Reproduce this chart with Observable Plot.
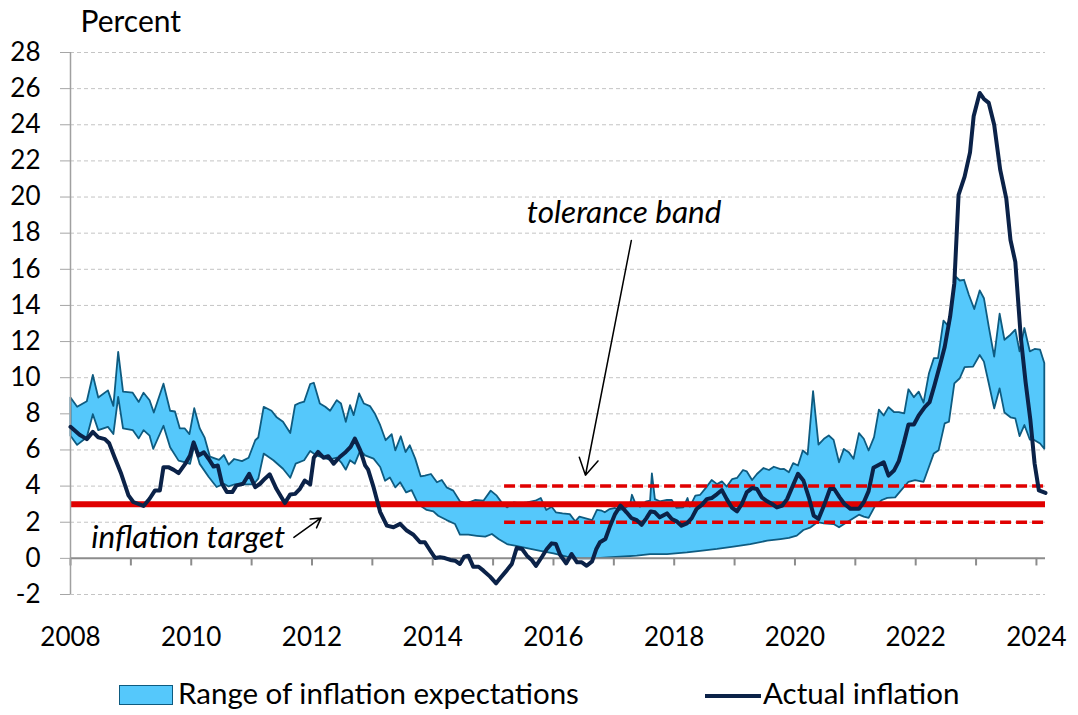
<!DOCTYPE html>
<html><head><meta charset="utf-8">
<script src="https://cdn.jsdelivr.net/npm/d3@7"></script>
<script src="https://cdn.jsdelivr.net/npm/@observablehq/plot@0.6"></script>
<style>
body{margin:0;background:#fff;font-family:Lato,sans-serif;}
#wrap{position:relative;width:1078px;height:715px;overflow:hidden}
.leg{position:absolute;font-size:29.5px;color:#000;line-height:32px;white-space:nowrap}
</style></head><body><div id="wrap"></div>
<script>
// ---- data (decimal year, percent) ----
const expUpper = [
[2008.00,8.9],[2008.11,8.39],[2008.27,8.7],[2008.37,10.15],[2008.46,8.9],[2008.62,9.3],[2008.71,8.44],[2008.79,11.43],[2008.87,9.23],[2009.03,9.17],[2009.13,8.66],[2009.21,9.17],[2009.31,8.75],[2009.38,8.07],[2009.54,9.67],[2009.65,8.17],[2009.73,8.13],[2009.81,7.2],[2009.89,7.2],[2009.97,6.88],[2010.05,8.31],[2010.14,7.2],[2010.22,6.7],[2010.31,5.63],[2010.46,5.45],[2010.54,5.72],[2010.62,5.19],[2010.71,5.5],[2010.84,5.38],[2010.95,5.57],[2011.06,6.54],[2011.11,6.69],[2011.20,8.39],[2011.33,8.17],[2011.41,7.83],[2011.52,7.56],[2011.64,6.94],[2011.72,8.48],[2011.80,8.61],[2011.87,8.67],[2011.97,9.65],[2012.03,9.72],[2012.13,8.57],[2012.22,8.39],[2012.30,8.17],[2012.41,8.76],[2012.48,8.57],[2012.56,7.56],[2012.63,8.48],[2012.69,7.93],[2012.78,9.13],[2012.86,8.57],[2012.96,8.43],[2013.04,8.02],[2013.13,7.37],[2013.22,6.54],[2013.32,6.87],[2013.38,5.98],[2013.47,6.76],[2013.55,5.89],[2013.62,6.26],[2013.71,5.52],[2013.80,4.54],[2013.87,4.58],[2013.97,4.67],[2014.07,4.21],[2014.15,4.34],[2014.23,3.93],[2014.34,3.75],[2014.45,3.16],[2014.56,3.04],[2014.70,3.23],[2014.84,3.19],[2014.96,3.75],[2015.06,3.47],[2015.14,3.1],[2015.23,2.82],[2015.34,3.1],[2015.45,3.04],[2015.56,3.1],[2015.70,3.19],[2015.79,3.34],[2015.88,2.68],[2015.97,2.86],[2016.04,2.55],[2016.15,2.49],[2016.27,2.45],[2016.36,2.05],[2016.43,2.31],[2016.52,2.23],[2016.64,2.12],[2016.72,2.68],[2016.80,2.64],[2016.85,2.55],[2016.93,2.73],[2017.02,2.79],[2017.10,2.68],[2017.18,2.77],[2017.27,3.0],[2017.30,3.52],[2017.35,3.1],[2017.43,2.86],[2017.54,3.16],[2017.60,3.19],[2017.63,4.7],[2017.68,3.28],[2017.76,3.16],[2017.88,3.23],[2017.96,3.23],[2018.04,2.79],[2018.15,2.82],[2018.22,3.34],[2018.26,2.86],[2018.35,3.47],[2018.43,3.52],[2018.54,3.97],[2018.62,4.34],[2018.71,4.11],[2018.79,4.26],[2018.87,3.97],[2018.96,4.39],[2019.04,4.45],[2019.14,4.89],[2019.20,4.82],[2019.29,4.34],[2019.37,4.67],[2019.48,5.0],[2019.57,4.89],[2019.65,5.07],[2019.76,4.94],[2019.82,4.95],[2019.90,4.77],[2019.97,5.27],[2020.05,5.14],[2020.13,5.97],[2020.21,5.75],[2020.30,9.26],[2020.39,6.3],[2020.48,6.62],[2020.56,6.8],[2020.64,6.56],[2020.73,5.32],[2020.81,6.06],[2020.89,5.88],[2020.97,5.51],[2021.06,6.93],[2021.14,6.62],[2021.22,5.97],[2021.31,6.71],[2021.39,8.23],[2021.47,7.91],[2021.55,8.37],[2021.64,8.1],[2021.72,8.1],[2021.81,8.03],[2021.88,9.36],[2021.97,8.92],[2022.05,9.23],[2022.13,8.62],[2022.22,10.25],[2022.30,11.08],[2022.37,11.08],[2022.46,13.16],[2022.55,12.83],[2022.66,15.6],[2022.73,15.38],[2022.80,15.42],[2022.88,14.59],[2022.97,13.8],[2023.06,14.83],[2023.13,14.4],[2023.21,12.83],[2023.30,11.17],[2023.39,13.54],[2023.47,12.1],[2023.57,12.38],[2023.65,12.66],[2023.72,11.46],[2023.80,12.75],[2023.89,11.46],[2023.97,11.59],[2024.06,11.55],[2024.13,10.81]
];
const expLower = [
[2008.00,6.79],[2008.11,6.28],[2008.27,6.7],[2008.37,7.98],[2008.46,7.1],[2008.62,7.28],[2008.71,6.88],[2008.79,8.94],[2008.87,7.2],[2009.03,7.1],[2009.13,6.64],[2009.21,7.1],[2009.31,6.79],[2009.37,6.06],[2009.54,7.34],[2009.65,6.15],[2009.79,5.41],[2009.90,5.32],[2009.98,5.23],[2010.05,6.24],[2010.14,5.23],[2010.29,4.5],[2010.42,3.95],[2010.54,4.13],[2010.62,3.98],[2010.71,4.09],[2010.84,4.09],[2011.03,4.09],[2011.11,4.41],[2011.20,5.8],[2011.36,5.43],[2011.52,4.96],[2011.64,4.46],[2011.73,5.24],[2011.87,5.43],[2011.97,5.94],[2012.07,5.7],[2012.19,5.57],[2012.29,5.46],[2012.41,5.57],[2012.49,5.28],[2012.56,4.91],[2012.63,5.43],[2012.71,5.24],[2012.80,5.98],[2012.88,5.7],[2013.02,5.52],[2013.13,5.06],[2013.21,4.3],[2013.29,4.48],[2013.38,3.93],[2013.46,4.21],[2013.56,3.65],[2013.65,3.78],[2013.76,3.0],[2013.90,2.68],[2014.01,2.6],[2014.09,2.36],[2014.23,2.12],[2014.37,1.9],[2014.45,1.31],[2014.59,1.31],[2014.73,1.25],[2014.87,1.2],[2014.98,1.35],[2015.09,1.07],[2015.23,0.79],[2015.36,0.7],[2015.56,0.57],[2015.78,0.42],[2016.00,0.28],[2016.22,0.09],[2016.44,0.0],[2016.66,0.0],[2016.90,0.05],[2017.10,0.09],[2017.38,0.15],[2017.60,0.24],[2017.88,0.24],[2018.21,0.33],[2018.43,0.42],[2018.71,0.52],[2018.98,0.65],[2019.26,0.79],[2019.54,0.98],[2019.76,1.07],[2019.90,1.13],[2020.03,1.26],[2020.14,1.57],[2020.26,1.72],[2020.37,2.0],[2020.48,1.94],[2020.64,1.9],[2020.73,1.72],[2020.86,2.0],[2021.06,2.42],[2021.14,2.31],[2021.22,2.24],[2021.33,2.92],[2021.44,3.23],[2021.53,3.35],[2021.66,3.38],[2021.75,3.74],[2021.88,4.24],[2021.99,4.33],[2022.13,4.24],[2022.22,5.07],[2022.30,5.81],[2022.38,5.99],[2022.48,7.47],[2022.55,7.56],[2022.64,9.69],[2022.73,9.97],[2022.81,10.58],[2022.95,10.61],[2023.06,11.26],[2023.13,10.89],[2023.21,9.69],[2023.30,8.3],[2023.39,9.41],[2023.47,8.07],[2023.57,7.81],[2023.65,7.75],[2023.72,6.77],[2023.80,7.38],[2023.89,6.58],[2023.97,6.54],[2024.06,6.36],[2024.13,6.07]
];
const actualInflation = [
[2008.00,7.28],[2008.15,6.84],[2008.27,6.6],[2008.37,7.0],[2008.46,6.7],[2008.57,6.6],[2008.64,6.37],[2008.73,5.6],[2008.84,4.68],[2008.96,3.49],[2009.04,3.12],[2009.21,2.9],[2009.31,3.3],[2009.40,3.76],[2009.48,3.76],[2009.54,5.05],[2009.62,5.05],[2009.71,4.9],[2009.79,4.72],[2009.90,5.23],[2009.98,5.69],[2010.04,6.42],[2010.12,5.69],[2010.21,5.87],[2010.29,5.5],[2010.37,5.08],[2010.44,5.14],[2010.51,4.13],[2010.59,3.67],[2010.68,3.67],[2010.75,4.04],[2010.86,4.13],[2010.96,4.68],[2011.06,3.94],[2011.14,4.13],[2011.22,4.41],[2011.30,4.65],[2011.41,3.85],[2011.55,3.06],[2011.64,3.54],[2011.72,3.57],[2011.80,3.85],[2011.88,4.31],[2011.97,4.09],[2012.03,5.57],[2012.10,5.89],[2012.19,5.57],[2012.27,5.65],[2012.36,5.24],[2012.46,5.61],[2012.56,5.89],[2012.64,6.17],[2012.71,6.63],[2012.80,5.98],[2012.88,5.15],[2012.93,4.91],[2013.02,3.94],[2013.13,2.56],[2013.24,1.81],[2013.35,1.72],[2013.46,1.91],[2013.57,1.54],[2013.68,1.31],[2013.79,0.89],[2013.87,0.89],[2013.96,0.42],[2014.04,0.02],[2014.12,0.06],[2014.20,0.02],[2014.29,-0.09],[2014.37,-0.13],[2014.45,-0.31],[2014.52,0.09],[2014.59,0.15],[2014.67,-0.46],[2014.76,-0.46],[2014.84,-0.68],[2014.95,-1.01],[2015.05,-1.38],[2015.12,-1.09],[2015.23,-0.65],[2015.31,-0.31],[2015.39,0.57],[2015.48,0.52],[2015.56,0.15],[2015.64,-0.09],[2015.71,-0.41],[2015.81,0.09],[2015.89,0.52],[2015.97,0.83],[2016.04,0.79],[2016.11,0.2],[2016.21,-0.28],[2016.30,0.24],[2016.39,-0.22],[2016.47,-0.22],[2016.55,-0.41],[2016.64,-0.17],[2016.71,0.52],[2016.77,0.89],[2016.86,1.07],[2016.94,1.81],[2017.02,2.45],[2017.11,2.92],[2017.21,2.55],[2017.29,2.23],[2017.38,2.12],[2017.46,1.86],[2017.54,2.23],[2017.61,2.6],[2017.68,2.55],[2017.76,2.27],[2017.88,2.49],[2017.96,2.18],[2018.04,2.05],[2018.12,1.81],[2018.21,1.94],[2018.29,2.23],[2018.37,2.73],[2018.46,2.97],[2018.54,3.28],[2018.62,3.34],[2018.71,3.56],[2018.79,3.78],[2018.87,3.28],[2018.96,2.79],[2019.04,2.6],[2019.12,3.01],[2019.20,3.65],[2019.29,3.89],[2019.37,3.84],[2019.45,3.38],[2019.54,3.16],[2019.62,3.01],[2019.70,2.82],[2019.79,2.92],[2019.87,3.28],[2019.93,3.75],[2020.05,4.68],[2020.14,4.31],[2020.23,3.38],[2020.31,2.37],[2020.39,2.18],[2020.48,2.92],[2020.58,3.84],[2020.65,3.84],[2020.74,3.38],[2020.82,3.01],[2020.92,2.74],[2021.06,2.74],[2021.14,3.11],[2021.22,3.72],[2021.30,5.01],[2021.47,5.32],[2021.55,4.58],[2021.64,4.86],[2021.72,5.38],[2021.80,6.34],[2021.88,7.41],[2021.97,7.41],[2022.05,7.91],[2022.15,8.37],[2022.23,8.65],[2022.31,9.57],[2022.40,10.68],[2022.48,11.7],[2022.57,13.38],[2022.64,15.23],[2022.71,20.12],[2022.81,21.13],[2022.90,22.47],[2022.96,24.47],[2023.06,25.76],[2023.13,25.43],[2023.21,25.21],[2023.30,24.0],[2023.40,21.5],[2023.50,19.93],[2023.57,17.62],[2023.65,16.41],[2023.74,12.26],[2023.82,9.76],[2023.90,7.64],[2023.97,5.24],[2024.04,3.76],[2024.15,3.62]
];
const inflationTarget = 3;
const toleranceBand = [2, 4];
const toleranceStart = 2015.19;
const xDomain = [2008, 2024.15];
const yTicks = [-2,0,2,4,6,8,10,12,14,16,18,20,22,24,26,28];
const gridValues = [-2,2,4,6,8,10,12,14,16,18,20,22,24,26,28];
const xLabelYears = [2008,2010,2012,2014,2016,2018,2020,2022,2024];
const xTickYears = [2008,2009,2010,2011,2012,2013,2014,2015,2016,2017,2018,2019,2020,2021,2022,2023,2024];
const annotations = [
  {label: "tolerance band", x: 2017.17, y: 19.1},
  {label: "inflation target", x: 2009.95, y: 1.15}
];
const arrowTolerance = [{x1: 2017.29, y1: 17.6, x2: 2016.53, y2: 4.6}];
const arrowTarget = [{x1: 2011.70, y1: 1.16, x2: 2012.15, y2: 2.24}];
const legendItems = ["Range of inflation expectations", "Actual inflation"];

// ---- build ----
const bandFill = "#55c8fb", bandStroke = "#0e5b80", navy = "#0b2248", red = "#e00000";
const bandPoly = [...expUpper, ...expLower.slice().reverse(), expUpper[0]];
const X = d => d[0], Y = d => d[1];

const chart = Plot.plot({
  width: 1078, height: 665,
  marginLeft: 70, marginRight: 33, marginTop: 52, marginBottom: 71,
  x: {domain: xDomain},
  y: {domain: [-2, 28]},
  style: {fontFamily: "Lato, sans-serif", fontSize: "26px", color: "black", background: "white"},
  marks: [
    Plot.ruleY(gridValues, {stroke: "#c4c4c4", strokeWidth: 1, strokeDasharray: "4,3"}),
    Plot.line(bandPoly, {x: X, y: Y, fill: bandFill, stroke: "none"}),
    Plot.line(bandPoly, {x: X, y: Y, stroke: bandStroke, strokeWidth: 1.8}),
    Plot.ruleY([inflationTarget], {x1: xDomain[0], x2: xDomain[1], stroke: red, strokeWidth: 6}),
    Plot.ruleY(toleranceBand, {x1: toleranceStart, x2: 2024.12, stroke: red, strokeWidth: 3.5, strokeDasharray: "11,5"}),
    Plot.ruleY([0], {stroke: "#8c8c8c", strokeWidth: 2}),
    Plot.ruleX(xTickYears, {y1: 0, y2: -0.42, stroke: "#8c8c8c", strokeWidth: 2}),
    Plot.ruleX([xDomain[0]], {y1: -2, y2: 28, stroke: "#a0a0a0", strokeWidth: 1.5}),
    Plot.line(actualInflation, {x: X, y: Y, stroke: navy, strokeWidth: 4, strokeLinejoin: "round"}),
    Plot.axisY(yTicks, {tickSize: 10, tickPadding: 20, tickFormat: d => String(d), stroke: "#a6a6a6", fill: "black", label: null}),
    Plot.axisX(xLabelYears, {anchor: "bottom", tickSize: 0, tickPadding: 33, tickFormat: d => String(d), fill: "black", label: null}),
    Plot.text(["Percent"], {frameAnchor: "top-left", textAnchor: "start", dx: 10, dy: -42, fill: "black", fontSize: 30}),
    Plot.text(annotations, {x: "x", y: "y", text: "label", fontStyle: "italic", fill: "black", fontSize: 31.5}),
    Plot.arrow(arrowTolerance, {x1: "x1", y1: "y1", x2: "x2", y2: "y2", stroke: "black", strokeWidth: 1.5, headLength: 19}),
    Plot.arrow(arrowTarget, {x1: "x1", y1: "y1", x2: "x2", y2: "y2", stroke: "black", strokeWidth: 1.5, headLength: 11})
  ]
});
const wrap = document.getElementById("wrap");
wrap.appendChild(chart);

// legend below the plot
function el(tag, style, text) { const e = document.createElement(tag); Object.assign(e.style, style); if (text) e.textContent = text; wrap.appendChild(e); return e; }
el("div", {position: "absolute", left: "119px", top: "685px", width: "52px", height: "18px", background: bandFill, border: "1.5px solid " + bandStroke});
const t1 = el("div", {left: "178px", top: "677px"}, legendItems[0]); t1.className = "leg";
el("div", {position: "absolute", left: "705px", top: "694px", width: "56px", height: "4px", background: navy});
const t2 = el("div", {left: "763px", top: "677px"}, legendItems[1]); t2.className = "leg";
</script></body></html>
